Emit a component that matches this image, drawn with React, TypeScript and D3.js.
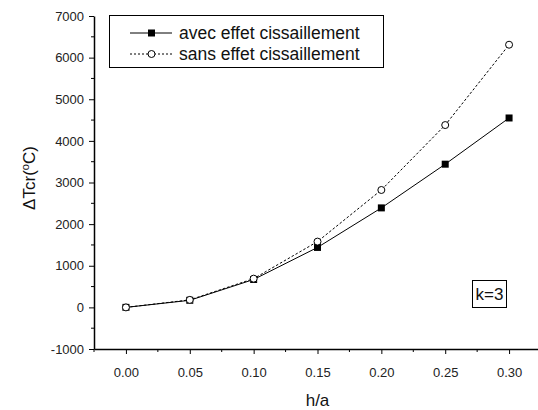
import React, { useRef, useEffect } from "react";
import * as d3 from "d3";

const ratios = [0, 0.05, 0.1, 0.15, 0.2, 0.25, 0.3];
const avecValues = [0, 170, 670, 1440, 2390, 3440, 4550];
const sansValues = [0, 180, 690, 1580, 2820, 4380, 6310];
const xTicks = [0, 0.05, 0.1, 0.15, 0.2, 0.25, 0.3];
const yTicks = [-1000, 0, 1000, 2000, 3000, 4000, 5000, 6000, 7000];

const App = () => {
  const svgRef = useRef<SVGSVGElement>(null);

  useEffect(() => {
    const svg = d3.select(svgRef.current);
    svg.selectAll("*").remove();

    const width = 538;
    const height = 410;
    const margin = { top: 16, right: -3, bottom: 61, left: 94 };
    const font = "Arial, 'Liberation Sans', sans-serif";

    svg.attr("width", width).attr("height", height).style("font-family", font);

    const x = d3
      .scaleLinear()
      .domain([-0.025, 0.325])
      .range([margin.left, width - margin.right]);
    const y = d3
      .scaleLinear()
      .domain([-1000, 7000])
      .range([height - margin.bottom, margin.top]);

    // minor ticks
    const g = svg.append("g");
    g.selectAll("line.xminor")
      .data(d3.range(-0.025, 0.33, 0.05))
      .join("line")
      .attr("x1", d => x(d))
      .attr("x2", d => x(d))
      .attr("y1", y(-1000))
      .attr("y2", y(-1000) + 3)
      .attr("stroke", "#000");
    g.selectAll("line.yminor")
      .data(d3.range(-500, 7000, 1000))
      .join("line")
      .attr("x1", x(-0.025) - 3)
      .attr("x2", x(-0.025))
      .attr("y1", d => y(d))
      .attr("y2", d => y(d))
      .attr("stroke", "#000");

    // axes
    const xAxis = svg
      .append("g")
      .attr("transform", `translate(0,${y(-1000)})`)
      .call(
        d3.axisBottom(x).tickValues(xTicks).tickFormat(d3.format(".2f")).tickSize(5).tickSizeOuter(0)
      );
    const yAxis = svg
      .append("g")
      .attr("transform", `translate(${x(-0.025)},0)`)
      .call(d3.axisLeft(y).tickValues(yTicks).tickFormat(d => String(d)).tickSize(5).tickSizeOuter(0));

    [xAxis, yAxis].forEach(a => {
      a.selectAll("path").attr("stroke", "#000").attr("stroke-width", 1.5);
      a.selectAll("line").attr("stroke", "#000");
      a.selectAll("text")
        .attr("fill", "#222")
        .style("font-size", "13px")
        .style("font-family", font);
    });
    xAxis.selectAll("text").attr("dy", "1.55em");
    yAxis.selectAll("text").attr("dx", "-0.15em");

    const pts = (vals: number[]) => ratios.map((r, i) => [r, vals[i]] as [number, number]);
    const line = d3
      .line<[number, number]>()
      .x(d => x(d[0]))
      .y(d => y(d[1]));

    // sans effet (dashed, open circles)
    svg
      .append("path")
      .attr("d", line(pts(sansValues)))
      .attr("fill", "none")
      .attr("stroke", "#000")
      .attr("stroke-dasharray", "2.5,2");

    // avec effet (solid, filled squares)
    svg
      .append("path")
      .attr("d", line(pts(avecValues)))
      .attr("fill", "none")
      .attr("stroke", "#000");

    svg
      .selectAll("rect.sq")
      .data(pts(avecValues))
      .join("rect")
      .attr("class", "sq")
      .attr("x", d => x(d[0]) - 3.5)
      .attr("y", d => y(d[1]) - 3.5)
      .attr("width", 7)
      .attr("height", 7)
      .attr("fill", "#000");

    svg
      .selectAll("circle.ci")
      .data(pts(sansValues))
      .join("circle")
      .attr("class", "ci")
      .attr("cx", d => x(d[0]))
      .attr("cy", d => y(d[1]))
      .attr("r", 3.5)
      .attr("fill", "#fff")
      .attr("stroke", "#000");

    // legend
    const leg = svg.append("g");
    leg.append("rect")
      .attr("x", 109.5)
      .attr("y", 15.5)
      .attr("width", 274)
      .attr("height", 52)
      .attr("fill", "#fff")
      .attr("stroke", "#000");
    const items = [
      { label: "avec effet cissaillement", dash: null, marker: "square" },
      { label: "sans effet cissaillement", dash: "2,2", marker: "circle" }
    ];
    items.forEach((it, i) => {
      const cy = 33 + i * 21;
      leg.append("line")
        .attr("x1", 130)
        .attr("x2", 172)
        .attr("y1", cy)
        .attr("y2", cy)
        .attr("stroke", "#000")
        .attr("stroke-dasharray", it.dash);
      if (it.marker === "square") {
        leg.append("rect")
          .attr("x", 148)
          .attr("y", cy - 3.5)
          .attr("width", 7)
          .attr("height", 7)
          .attr("fill", "#000");
      } else {
        leg.append("circle")
          .attr("cx", 151.5)
          .attr("cy", cy)
          .attr("r", 3.5)
          .attr("fill", "#fff")
          .attr("stroke", "#000");
      }
      leg.append("text")
        .attr("x", 179)
        .attr("y", cy + 6)
        .attr("fill", "#111")
        .style("font-size", "17.5px")
        .text(it.label);
    });

    // k=3 box
    svg.append("rect")
      .attr("x", 472.5)
      .attr("y", 280.5)
      .attr("width", 34)
      .attr("height", 27)
      .attr("fill", "#fff")
      .attr("stroke", "#000");
    svg.append("text")
      .attr("x", 489.5)
      .attr("y", 300)
      .attr("text-anchor", "middle")
      .attr("fill", "#111")
      .style("font-size", "17px")
      .text("k=3");

    // axis titles
    svg.append("text")
      .attr("x", x(0.15) as number)
      .attr("y", 406)
      .attr("text-anchor", "middle")
      .attr("fill", "#111")
      .style("font-size", "17px")
      .text("h/a");

    const yl = svg.append("text")
      .attr("transform", "translate(35,178) rotate(-90)")
      .attr("text-anchor", "middle")
      .attr("fill", "#111")
      .style("font-size", "17px");
    yl.append("tspan").text("\u0394Tcr(");
    yl.append("tspan").attr("dy", -6).style("font-size", "11px").text("o");
    yl.append("tspan").attr("dy", 6).text("C)");
  }, []);

  return <svg ref={svgRef} style={{ position: "absolute", left: 0, top: 0 }} />;
};

export default App;
